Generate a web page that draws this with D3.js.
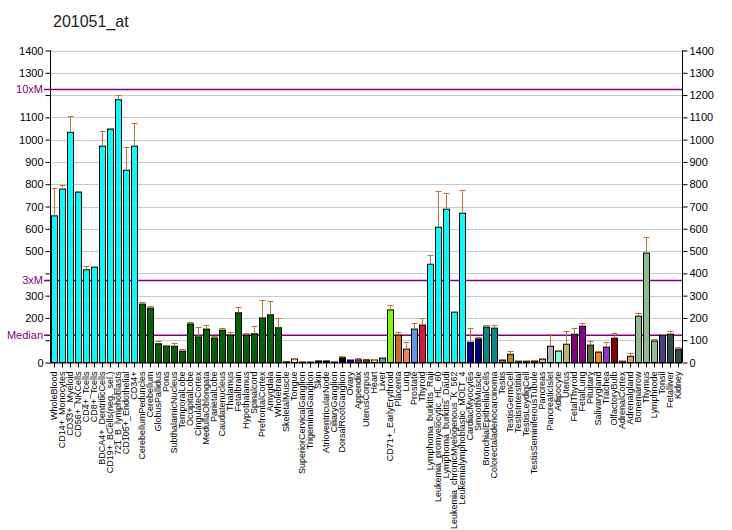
<!DOCTYPE html>
<html><head><meta charset="utf-8">
<script src="https://cdn.jsdelivr.net/npm/d3@7"></script>
<style>
html,body{margin:0;padding:0;background:#fff;}
svg{display:block;font-family:Arial,"Liberation Sans",sans-serif;}
</style></head>
<body>
<svg id="chart" width="732" height="530"></svg>
<script>
const title = "201051_at";
const categories = ["WholeBlood","CD14+_Monocytes","CD33+_Myeloid","CD56+_NKCells","CD4+_Tcells","CD8+_Tcells","BDCA4+_DentriticCells","CD19+_BCells(neg._sel.)","721_B_lymphoblasts","CD105+_Endothelial","CD34+","CerebellumPeduncles","Cerebellum","GlobusPallidus","Pons","SubthalamicNucleus","TemporalLobe","OccipitalLobe","CingulateCortex","MedullaOblongata","ParietalLobe","Caudatenucleus","Thalamus","Fetalbrain","Hypothalamus","Spinalcord","PrefrontalCortex","Amygdala","Wholebrain","SkeletalMuscle","Tongue","SuperiorCervicalGanglion","TrigeminalGanglion","Skin","AtrioventricularNode","CiliaryGanglion","DorsalRootGanglion","Ovary","Appendix","UterusCorpus","Heart","Liver","CD71+_EarlyErythroid","Placenta","Lung","Prostate","Thyroid","Lymphoma_burkitts_Raji","Leukemia_promyelocytic_HL_60","Lymphoma_burkitts_Daudi","Leukemia_chronicMyelogenous_K_562","Leukemialymphoblastic_MOLT_4","CardiacMyocytes","SmoothMuscle","BronchialEpithelialCells","Colorectaladenocarcinoma","Testis","TestisGermCell","TestisInterstitial","TestisLeydigCell","TestisSeminiferousTubule","Pancreas","PancreaticIslet","Adipocyte","Uterus","FetalThyroid","FetalLung","Pituitary","Salivarygland","Trachea","OlfactoryBulb","AdrenalCortex","Adrenalgland","Bonemarrow","Thymus","Lymphnode","Tonsil","Fetalliver","Kidney"];
const values = [658,778,1033,764,416,428,971,1047,1179,863,971,262,244,84,75,73,51,173,115,150,110,145,123,223,123,129,200,214,156,3,16,3,2,7,7,3,21,12,12,12,12,20,236,123,60,150,168,441,607,688,226,670,91,106,159,154,10,37,6,6,6,15,73,51,82,127,163,78,46,69,109,6,28,208,491,96,123,127,60];
const errors = [124,18,72,5,16,0,67,4,21,103,103,9,9,12,4,14,9,8,45,18,10,12,13,25,9,34,80,61,43,0,5,4,0,0,0,4,9,4,9,0,4,0,21,13,31,26,31,41,162,72,0,103,63,8,9,14,5,14,0,0,4,4,54,4,58,27,13,18,5,22,23,0,14,13,71,9,4,14,10];
const barColors = ["#00FFFF","#00FFFF","#00FFFF","#00FFFF","#00FFFF","#00FFFF","#00FFFF","#00FFFF","#00FFFF","#00FFFF","#00FFFF",
 "#006400","#006400","#006400","#006400","#006400","#006400","#006400","#006400","#006400","#006400","#006400","#006400","#006400","#006400","#006400","#006400","#006400","#006400",
 "#000000","#FFDAB9","#000000","#000000","#000000","#000000","#000000","#000000","#0000FF","#8A2BE2","#A52A2A","#EECBA0","#5F9EA0",
 "#7CFC00","#D2691E","#FF7F50","#6495ED","#DC143C",
 "#00FFFF","#00FFFF","#00FFFF","#00FFFF","#00FFFF",
 "#00008B","#000080","#008B8B","#008B8B",
 "#B8860B","#B8860B","#B8860B","#B8860B","#B8860B",
 "#C0C0C0","#B0B0B0","#7FFFD4","#BDB76B","#800080","#8B008B","#556B2F","#FF8C00","#9932CC","#8B0000","#FFA07A","#E9967A",
 "#8FBC8F","#8FBC8F","#8FBC8F","#483D8B","#2F4F4F","#2F4F4F"];
const yTicks = [0,100,200,300,400,500,600,700,800,900,1000,1100,1200,1300,1400];
const median = 122.5;
const refLines = [{label:"10xM", value: median*10},{label:"3xM", value: median*3},{label:"Median", value: median}];

const svg = d3.select("#chart");
const L = 50, R = 682, T = 50.5, B = 362.5;
const y = d3.scaleLinear().domain([0,1400]).range([B, T]);
const x = d3.scaleBand().domain(categories).range([L, R]).paddingInner(0.25).paddingOuter(0.125);

// title
svg.append("text").attr("x",53).attr("y",27).attr("font-size",16).attr("fill","#222").text(title);

// gridlines
svg.append("g").selectAll("line").data(yTicks.filter(d=>d>0)).join("line")
  .attr("x1",L).attr("x2",R).attr("y1",d=>Math.round(y(d))+0.5).attr("y2",d=>Math.round(y(d))+0.5)
  .attr("stroke","#c8c8c8").attr("stroke-width",1);

// left axis
const hidden = d => refLines.some(r => Math.abs(r.value - d) < 35);
const leftAxis = d3.axisLeft(y).tickValues(yTicks).tickSize(5).tickPadding(2)
  .tickFormat(d => hidden(d) ? "" : String(d));
const gl = svg.append("g").attr("transform",`translate(${L+0.5},0)`).call(leftAxis);
gl.selectAll("text").attr("font-size",11).attr("font-family","Arial,'Liberation Sans',sans-serif").attr("fill","#000");
gl.select(".domain").attr("d",`M0,${T-0.5}V${B}`);

// right axis
const rightAxis = d3.axisRight(y).tickValues(yTicks).tickSize(5).tickPadding(2).tickFormat(d => String(d));
const gr = svg.append("g").attr("transform",`translate(${R+0.5},0)`).call(rightAxis);
gr.selectAll("text").attr("font-size",11).attr("font-family","Arial,'Liberation Sans',sans-serif").attr("fill","#000");
gr.select(".domain").attr("d",`M0,${T-0.5}V${B}`);

// reference lines
const rl = svg.append("g");
rl.selectAll("line").data(refLines).join("line")
  .attr("x1",44).attr("x2",R).attr("y1",d=>y(d.value)).attr("y2",d=>y(d.value))
  .attr("stroke","#800080").attr("stroke-width",1.5);
rl.selectAll("text").data(refLines).join("text")
  .attr("x",43).attr("y",d=>y(d.value)).attr("dy","0.35em").attr("text-anchor","end")
  .attr("font-size",11).attr("fill","#800080").text(d=>d.label);

// bars
const bars = svg.append("g");
bars.selectAll("rect").data(categories).join("rect")
  .attr("x",(d)=>Math.round(x(d))+0.5)
  .attr("y",(d,i)=>y(values[i]))
  .attr("width",Math.round(x.bandwidth()))
  .attr("height",(d,i)=>y(0)-y(values[i]))
  .attr("fill",(d,i)=>barColors[i]).attr("stroke","#000").attr("stroke-width",1);

// error bars
const eb = svg.append("g").attr("stroke","#C8702F").attr("stroke-width",1);
categories.forEach((c,i)=>{
  if(!errors[i]) return;
  const cx = Math.round(x(c)+x.bandwidth()/2)+0.5;
  const yt = Math.round(y(values[i]+errors[i]))+0.5;
  eb.append("line").attr("x1",cx).attr("x2",cx).attr("y1",y(values[i])).attr("y2",yt);
  eb.append("line").attr("x1",cx-3).attr("x2",cx+3).attr("y1",yt).attr("y2",yt);
});

// bottom axis
const bottomAxis = d3.axisBottom(x).tickSize(5).tickPadding(3);
const gb = svg.append("g").attr("transform",`translate(0,${B})`).call(bottomAxis);
gb.select(".domain").attr("d",`M${L},0.5H${R}`);
gb.selectAll(".tick line").attr("transform","translate(0.5,0)");
gb.selectAll("text").attr("font-size",9).attr("font-family","Arial,'Liberation Sans',sans-serif")
  .attr("transform","rotate(-90)").attr("text-anchor","end").attr("x",-9).attr("y",0).attr("dy","0.35em").attr("fill","#000");
</script>
</body></html>
